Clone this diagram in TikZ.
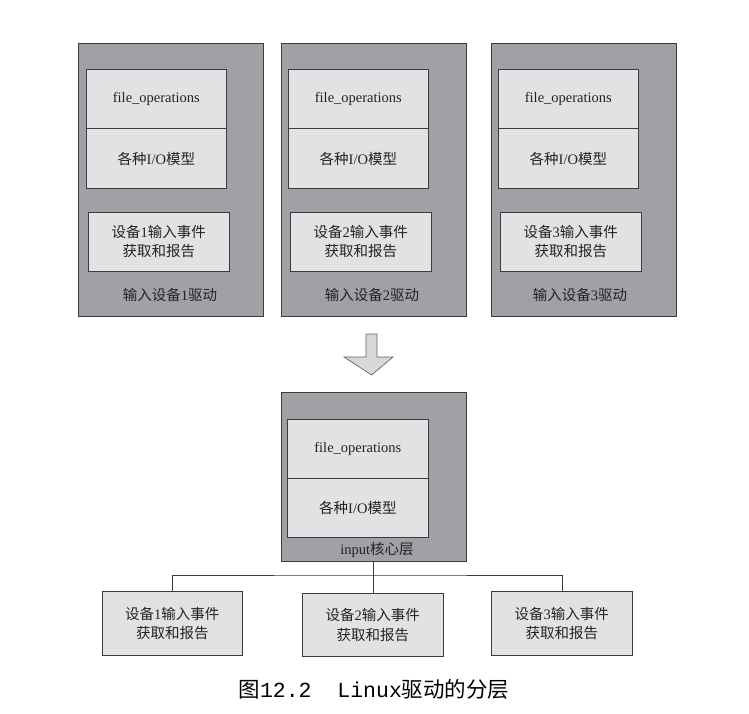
\documentclass[tikz,border=0pt]{standalone}
\usepackage{fontspec}
\setmainfont{Liberation Serif}
\newfontfamily\cjk{Noto Sans CJK SC}
\newfontfamily\capmono{Liberation Mono}
\newcommand{\zh}[1]{{\cjk #1}}
\definecolor{outerfill}{RGB}{160,160,165}
\definecolor{innerfill}{RGB}{226,226,229}
\definecolor{edge}{RGB}{60,60,62}
\definecolor{txt}{RGB}{35,35,35}
\begin{document}
\begin{tikzpicture}[x=1pt,y=-1pt,
  outer/.style={draw=edge,line width=0.7pt,fill=outerfill,inner sep=0pt,anchor=north west,minimum width=185pt},
  inbox/.style={draw=edge,line width=0.7pt,fill=innerfill,inner sep=0pt,anchor=north west,text=txt,
    font=\fontsize{14.5}{19.5}\selectfont,align=center},
  lbl/.style={text=txt,font=\fontsize{14.5}{16}\selectfont,inner sep=0pt},
  conn/.style={draw=edge,line width=0.7pt}]
\useasboundingbox (0,0) rectangle (749,714);
\fill[white] (0,0) rectangle (749,714);
% driver boxes
\node[outer,minimum height=273pt] (d1) at (78,42.7) {};
\node[outer,minimum height=273pt] (d2) at (281,42.7) {};
\node[outer,minimum height=273pt] (d3) at (491,42.7) {};
\foreach \n/\x/\ex/\lx in {1/86/88/170,2/288/290/372,3/498/500/580}{
  \node[inbox,minimum width=140pt,minimum height=59.5pt] (fo\n) at (\x,69) {file\_operations};
  \node[inbox,minimum width=140pt,minimum height=59.5pt] (io\n) at (\x,128.5) {\zh{各种}I/O\zh{模型}};
  \node[inbox,minimum width=141pt,minimum height=59.5pt] (ev\n) at (\ex,211.5) {\zh{设备}\n\zh{输入事件}\\\zh{获取和报告}};
  \node[lbl] (dl\n) at (\lx,295) {\zh{输入设备}\n\zh{驱动}};
}
% arrow
\coordinate (a1) at (366,334);
\coordinate (a2) at (377,334);
\coordinate (a3) at (377,357);
\coordinate (a4) at (393,357);
\coordinate (a5) at (371.5,375);
\coordinate (a6) at (344,357);
\coordinate (a7) at (366,357);
\filldraw[draw=gray!80!black,fill=innerfill!90!gray,line width=0.7pt,line join=miter] (a1)--(a2)--(a3)--(a4)--(a5)--(a6)--(a7)--cycle;
% core
\node[outer,minimum height=169pt] (core) at (281,392) {};
\node[inbox,minimum width=141pt,minimum height=59pt] (cfo) at (287,419) {file\_operations};
\node[inbox,minimum width=141pt,minimum height=59pt] (cio) at (287,478) {\zh{各种}I/O\zh{模型}};
\node[lbl] (cl) at (377,550) {input\zh{核心层}};
% bottom boxes
\node[inbox,minimum width=140pt,minimum height=64pt] (b1) at (102,591) {\zh{设备}1\zh{输入事件}\\\zh{获取和报告}};
\node[inbox,minimum width=141pt,minimum height=63pt] (b2) at (302,593) {\zh{设备}2\zh{输入事件}\\\zh{获取和报告}};
\node[inbox,minimum width=141pt,minimum height=64pt] (b3) at (491,591) {\zh{设备}3\zh{输入事件}\\\zh{获取和报告}};
% tree
\coordinate (j) at (373,575);
\draw[conn] (core.south -| j) -- (j);
\draw[conn] (b1.north) |- (j) -| (b3.north);
\draw[conn] (j) -- (j |- b2.north);
% caption
\node[text=black,font=\fontsize{21.5}{24}\selectfont,inner sep=0pt] (cap) at (374,689) {\zh{图}{\capmono 12.2\ \ Linux}\zh{驱动的分层}};
\end{tikzpicture}
\end{document}
